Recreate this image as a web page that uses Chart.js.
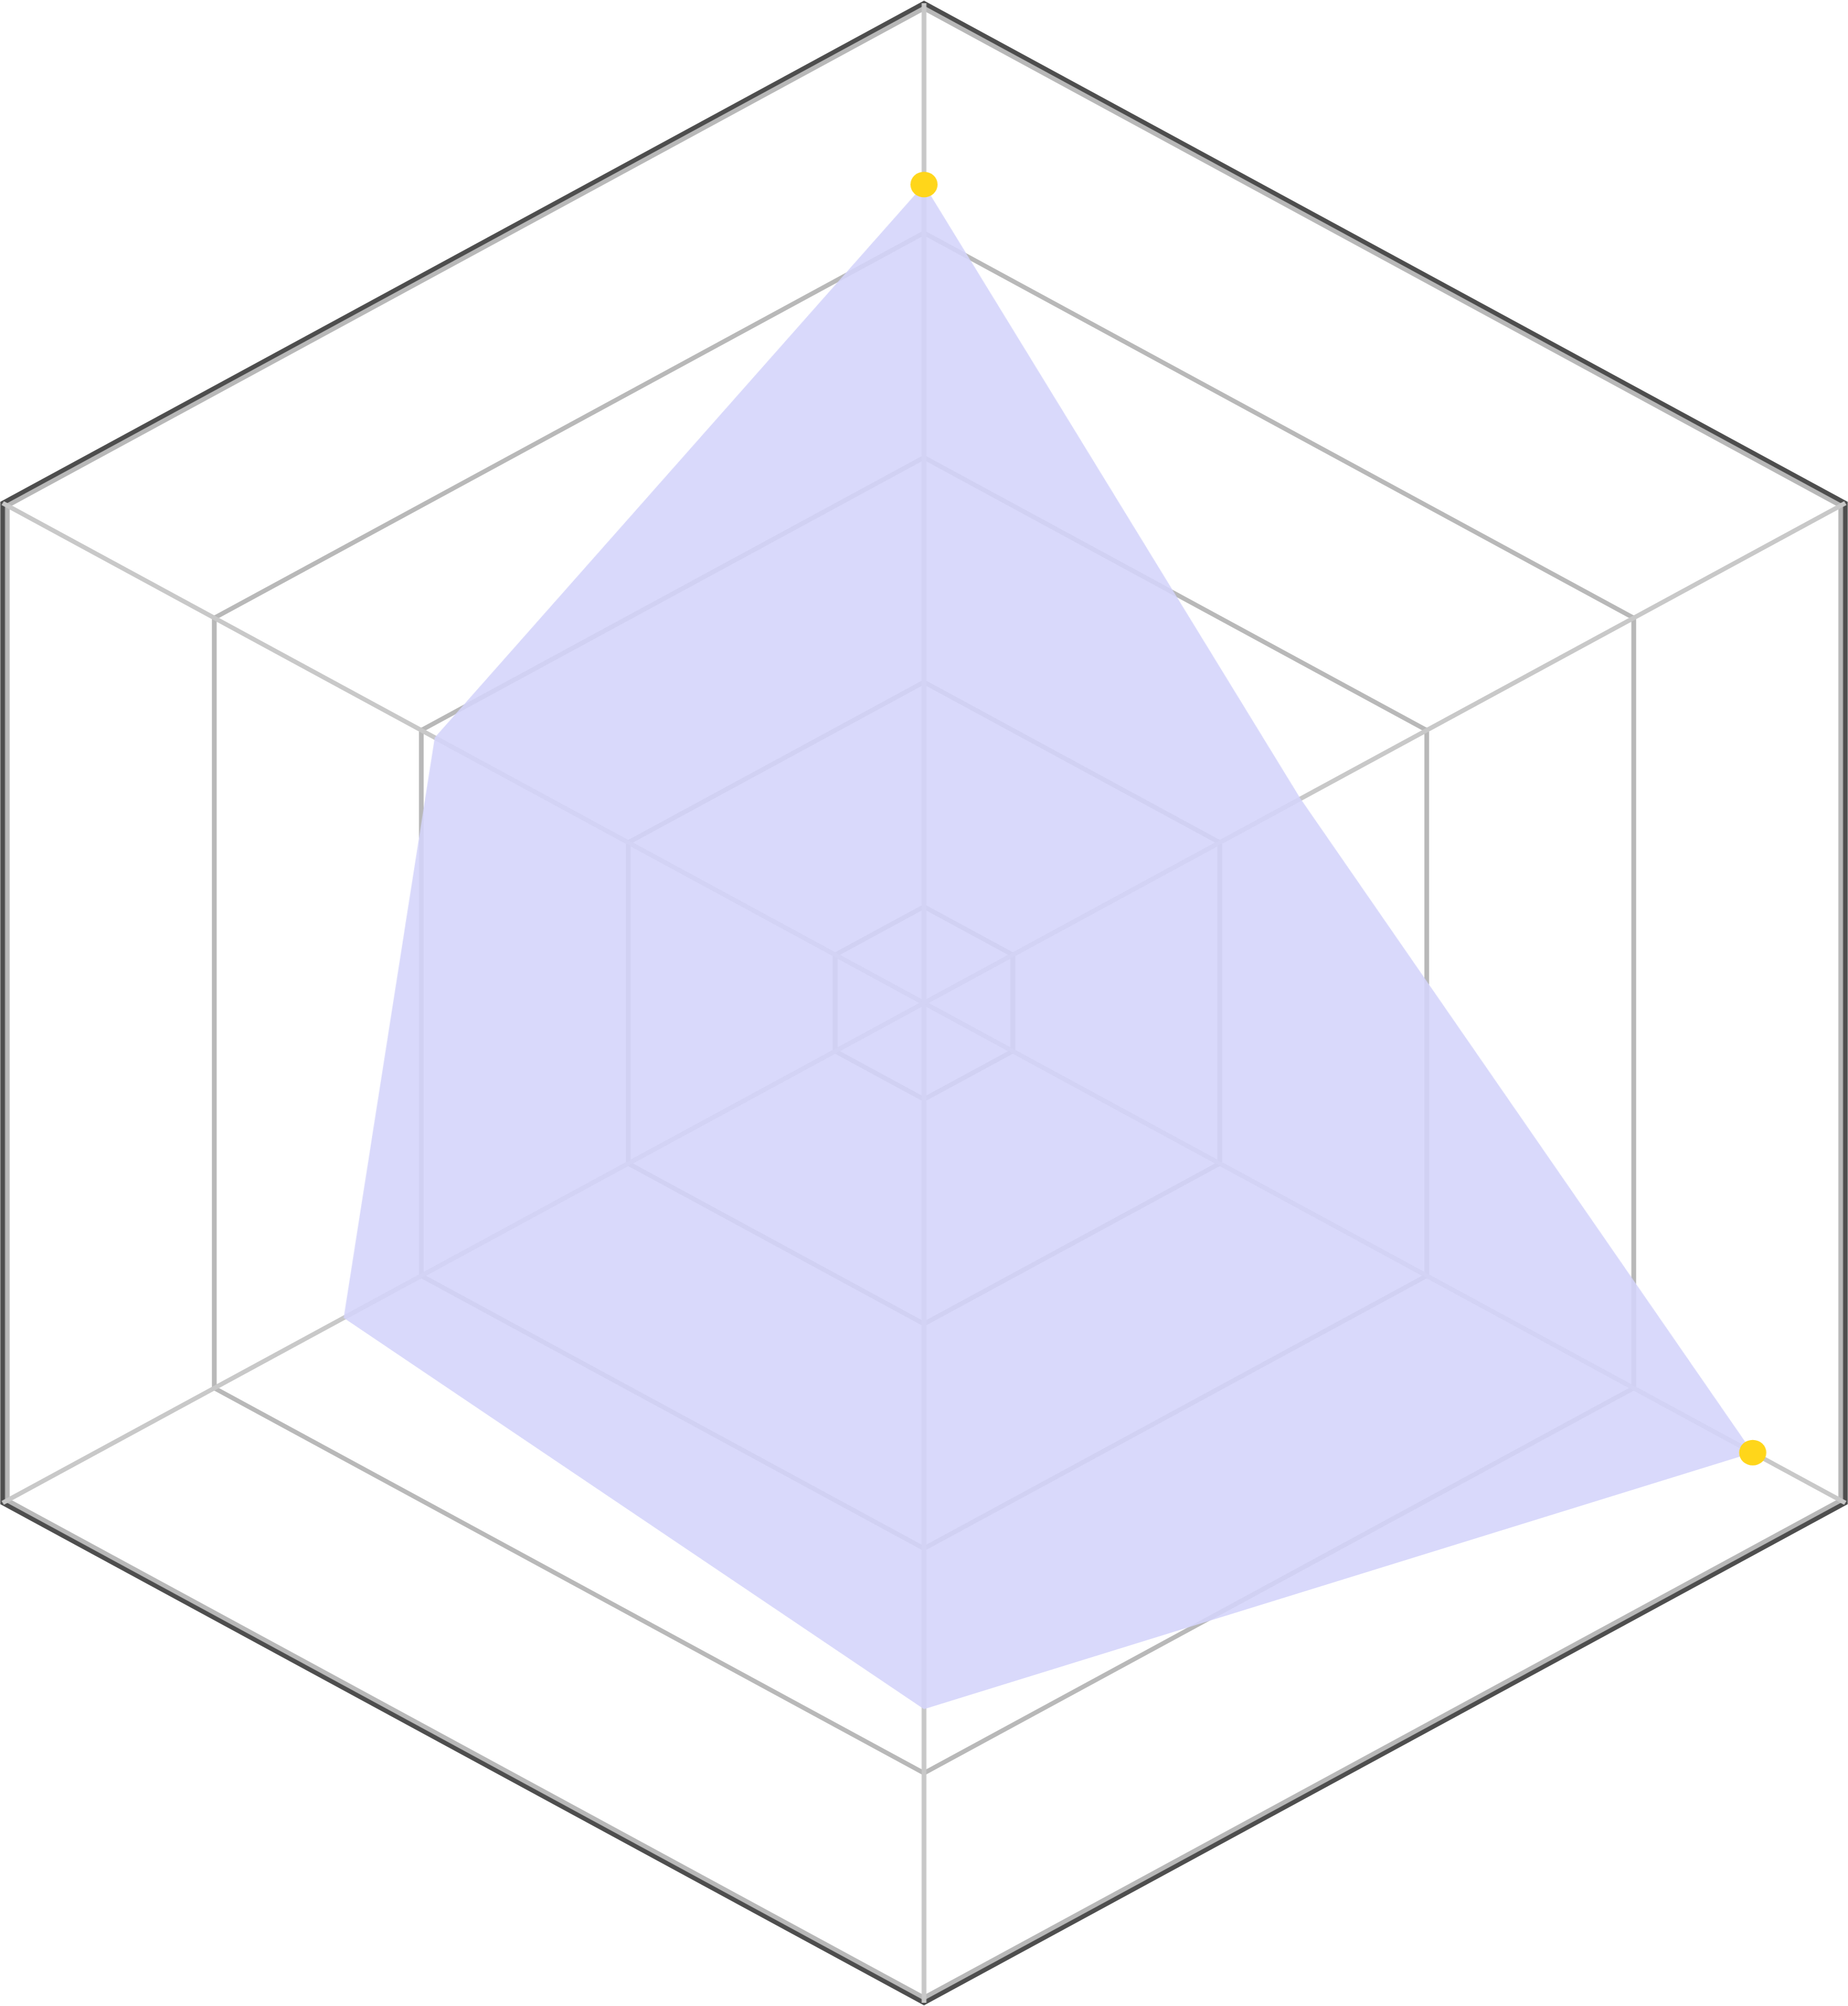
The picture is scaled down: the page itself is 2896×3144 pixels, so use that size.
<!DOCTYPE html>
<html>
<head>
<meta charset="utf-8">
<script src="https://cdn.jsdelivr.net/npm/chart.js@4/dist/chart.umd.min.js"></script>
<style>
  html, body { margin: 0; padding: 0; background: #ffffff; }
  #radarChart { display: block; width: 2896px; height: 3144px; }
</style>
</head>
<body>
<canvas id="radarChart" width="2722" height="3144" style="width:2896px;height:3144px"></canvas>
<script>
// categorias (no se muestran en el grafico)
const labels = ["A", "B", "C", "D", "E", "F"];
// valores de la serie
const values = [84.3, 47.8, 91.5, 74.3, 67.5, 58.7];
// marcas del eje radial: minimo, anillos y borde exterior
const tickValues = [11.42, 20, 40, 60, 80, 100, 100.45];
const scaleMin = tickValues[0];
const scaleMax = tickValues[tickValues.length - 1];

const ctx = document.getElementById("radarChart").getContext("2d");

const radarChart = new Chart(ctx, {
  type: "radar",
  data: {
    labels: labels,
    datasets: [
      {
        data: values,
        backgroundColor: "rgba(212, 212, 250, 0.88)",
        borderWidth: 0,
        fill: true,
        pointRadius: [20, 0, 20, 0, 0, 0],
        pointBackgroundColor: "#ffd61a",
        pointBorderWidth: 0,
        clip: false,
      },
    ],
  },
  options: {
    responsive: false,
    devicePixelRatio: 1,
    animation: false,
    layout: {
      padding: { left: 0, right: 0, top: 5, bottom: 5 },
    },
    plugins: {
      legend: { display: false },
      tooltip: { enabled: false },
      title: { display: false },
    },
    scales: {
      r: {
        min: scaleMin,
        max: scaleMax,
        afterBuildTicks: function (scale) {
          scale.ticks = tickValues.map((v) => ({ value: v }));
        },
        // el radio sigue la altura; el lienzo se estira a lo ancho con CSS
        afterFit: function (scale) {
          scale.drawingArea = Math.floor(scale.height / 2);
        },
        ticks: { display: false },
        pointLabels: { display: false },
        angleLines: {
          display: true,
          color: "#c8c8c8",
          lineWidth: 7,
        },
        grid: {
          color: function (context) {
            return context.index === tickValues.length - 1 ? "#4d4d4d" : "#b8b8b8";
          },
          lineWidth: 7,
        },
      },
    },
  },
});
</script>
</body>
</html>
